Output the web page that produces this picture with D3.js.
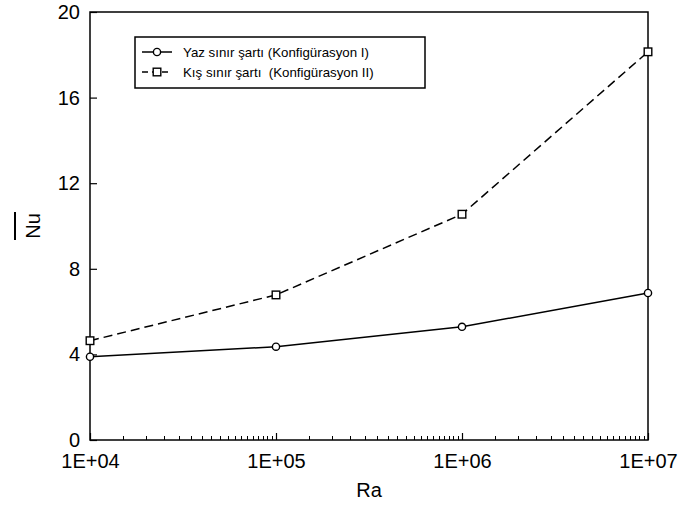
<!DOCTYPE html>
<html>
<head>
<meta charset="utf-8">
<script src="https://cdn.jsdelivr.net/npm/d3@7"></script>
<style>
  html, body { margin: 0; padding: 0; background: #fff; }
  svg { display: block; font-family: Arial, "Liberation Sans", sans-serif; }
</style>
</head>
<body>
<svg id="chart" width="682" height="515"></svg>
<script>
const raValues = [1e4, 1e5, 1e6, 1e7];
const yazValues = [3.89, 4.36, 5.29, 6.87];
const kisValues = [4.64, 6.78, 10.55, 18.14];
const seriesNames = ["Yaz sınır şartı (Konfigürasyon I)", "Kış sınır şartı  (Konfigürasyon II)"];
const xTickLabels = ["1E+04", "1E+05", "1E+06", "1E+07"];
const yTicks = [0, 4, 8, 12, 16, 20];

const svg = d3.select("#chart");
const margin = { left: 90, right: 682 - 648, top: 12, bottom: 515 - 440 };
const W = 682, H = 515;

const x = d3.scaleLog().domain([1e4, 1e7]).range([margin.left, W - margin.right]);
const y = d3.scaleLinear().domain([0, 20]).range([H - margin.bottom, margin.top]);

// minor ticks on x
const minorTicks = [];
for (let d = 1e4; d < 1e7; d *= 10) {
  for (let m = 1.5; m < 10; m += 0.5) minorTicks.push(d * m);
}
svg.append("g").selectAll("line").data(minorTicks).join("line")
  .attr("x1", d => Math.round(x(d)) + 0.5).attr("x2", d => Math.round(x(d)) + 0.5)
  .attr("y1", y(0)).attr("y2", y(0) - 4)
  .attr("stroke", "#000").attr("stroke-width", 1);

// x axis major
const xAxis = d3.axisBottom(x).tickValues(raValues)
  .tickFormat((d, i) => xTickLabels[i]).tickSizeInner(-7).tickSizeOuter(0).tickPadding(14);
const gx = svg.append("g").attr("transform", `translate(0,${y(0)})`).call(xAxis);
gx.select(".domain").remove();
gx.selectAll(".tick line").attr("stroke", "#000").attr("stroke-width", 1.2);
gx.selectAll("text").attr("font-size", 20).attr("font-family", "Arial, 'Liberation Sans', sans-serif").attr("fill", "#000");

// y axis
const yAxis = d3.axisLeft(y).tickValues(yTicks).tickSizeInner(-7).tickSizeOuter(0).tickPadding(10);
const gy = svg.append("g").attr("transform", `translate(${x(1e4)},0)`).call(yAxis);
gy.select(".domain").remove();
gy.selectAll(".tick line").attr("stroke", "#000").attr("stroke-width", 1.2);
gy.selectAll("text").attr("font-size", 20).attr("font-family", "Arial, 'Liberation Sans', sans-serif").attr("fill", "#000");

// frame
svg.append("rect")
  .attr("x", x(1e4)).attr("y", y(20))
  .attr("width", x(1e7) - x(1e4)).attr("height", y(0) - y(20))
  .attr("fill", "none").attr("stroke", "#000").attr("stroke-width", 1.5);

// lines
const line = d3.line().x(d => x(d[0])).y(d => y(d[1]));
const yazData = raValues.map((r, i) => [r, yazValues[i]]);
const kisData = raValues.map((r, i) => [r, kisValues[i]]);

svg.append("path").datum(yazData).attr("d", line)
  .attr("fill", "none").attr("stroke", "#000").attr("stroke-width", 1.5);
svg.append("path").datum(kisData).attr("d", line)
  .attr("fill", "none").attr("stroke", "#000").attr("stroke-width", 1.5)
  .attr("stroke-dasharray", "9,5");

svg.append("g").selectAll("circle").data(yazData).join("circle")
  .attr("cx", d => x(d[0])).attr("cy", d => y(d[1])).attr("r", 3.6)
  .attr("fill", "#fff").attr("stroke", "#000").attr("stroke-width", 1.4);
svg.append("g").selectAll("rect").data(kisData).join("rect")
  .attr("x", d => x(d[0]) - 3.8).attr("y", d => y(d[1]) - 3.8)
  .attr("width", 7.6).attr("height", 7.6)
  .attr("fill", "#fff").attr("stroke", "#000").attr("stroke-width", 1.4);

// legend
const lg = svg.append("g");
lg.append("rect").attr("x", 135).attr("y", 37).attr("width", 290).attr("height", 51)
  .attr("fill", "#fff").attr("stroke", "#000").attr("stroke-width", 1.5);
const rows = [52, 72];
rows.forEach((ry, i) => {
  lg.append("line").attr("x1", 142).attr("x2", 172).attr("y1", ry).attr("y2", ry)
    .attr("stroke", "#000").attr("stroke-width", 1.5)
    .attr("stroke-dasharray", i === 1 ? "6,4" : null);
  if (i === 0) {
    lg.append("circle").attr("cx", 157).attr("cy", ry).attr("r", 3.6)
      .attr("fill", "#fff").attr("stroke", "#000").attr("stroke-width", 1.4);
  } else {
    lg.append("rect").attr("x", 157 - 3.8).attr("y", ry - 3.8).attr("width", 7.6).attr("height", 7.6)
      .attr("fill", "#fff").attr("stroke", "#000").attr("stroke-width", 1.4);
  }
  lg.append("text").attr("x", 183).attr("y", ry).attr("dy", "0.36em")
    .attr("font-size", 13.3).attr("fill", "#000")
    .style("white-space", "pre").attr("xml:space", "preserve")
    .text(seriesNames[i]);
});

// axis titles
svg.append("text").attr("x", (x(1e4) + x(1e7)) / 2).attr("y", 497)
  .attr("text-anchor", "middle").attr("font-size", 20).attr("fill", "#000").text("Ra");

const yt = svg.append("g").attr("transform", `translate(40,${(y(0) + y(20)) / 2})rotate(-90)`);
yt.append("text").attr("x", 0).attr("y", 0).attr("text-anchor", "middle")
  .attr("font-size", 20).attr("fill", "#000").text("Nu");
yt.append("line").attr("x1", -14).attr("x2", 14).attr("y1", -25).attr("y2", -25)
  .attr("stroke", "#000").attr("stroke-width", 2);
</script>
</body>
</html>
